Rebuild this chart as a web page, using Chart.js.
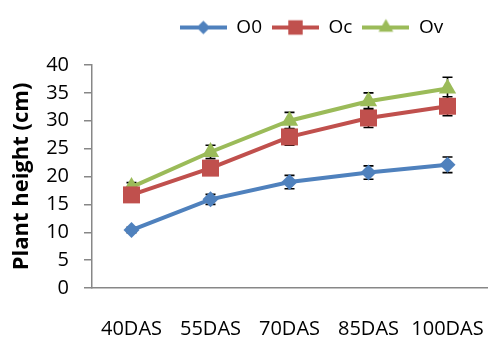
<!DOCTYPE html>
<html>
<head>
<meta charset="utf-8">
<script src="https://cdn.jsdelivr.net/npm/chart.js@4/dist/chart.umd.min.js"></script>
<style>
html,body{margin:0;padding:0;background:#fff;}
#wrap{width:488px;height:339px;position:relative;}
</style>
</head>
<body>
<div id="wrap"><canvas id="c" width="488" height="339"></canvas></div>
<script>
const categories = ['40DAS', '55DAS', '70DAS', '85DAS', '100DAS'];
const seriesNames = ['O0', 'Oc', 'Ov'];
const o0Values = [10.4, 15.9, 19.0, 20.7, 22.1];
const ocValues = [16.7, 21.5, 27.1, 30.5, 32.6];
const ovValues = [18.1, 24.4, 30.0, 33.5, 35.8];
const o0Errors = [0.5, 0.9, 1.2, 1.2, 1.4];
const ocErrors = [1.0, 1.2, 1.5, 1.7, 1.7];
const ovErrors = [0.8, 1.2, 1.5, 1.5, 2.0];
const yTicks = [0, 5, 10, 15, 20, 25, 30, 35, 40];

const FONT = "'Open Sans', 'DejaVu Sans', sans-serif";
const colors = ['#4F81BD', '#C0504D', '#9BBB59'];
const styles = ['rectRot', 'rect', 'triangle'];
const radii = [8, 12, 10];

function drawMarker(ctx, style, x, y, r, color) {
  ctx.fillStyle = color;
  ctx.beginPath();
  if (style === 'rectRot') {
    ctx.moveTo(x, y - r); ctx.lineTo(x + r, y); ctx.lineTo(x, y + r); ctx.lineTo(x - r, y);
  } else if (style === 'rect') {
    const s = r * Math.SQRT1_2;
    ctx.rect(x - s, y - s, 2 * s, 2 * s);
  } else {
    ctx.moveTo(x, y - r);
    ctx.lineTo(x + r * 0.866, y + r * 0.5);
    ctx.lineTo(x - r * 0.866, y + r * 0.5);
  }
  ctx.closePath();
  ctx.fill();
}

function legendIcon(i) {
  const cv = document.createElement('canvas');
  cv.width = 47; cv.height = 20;
  const ctx = cv.getContext('2d');
  ctx.strokeStyle = colors[i];
  ctx.lineWidth = 4;
  ctx.beginPath(); ctx.moveTo(0, 10); ctx.lineTo(47, 10); ctx.stroke();
  drawMarker(ctx, styles[i], 23.5, 10, radii[i] * 0.85, colors[i]);
  return cv;
}

const errorSets = [o0Errors, ocErrors, ovErrors];

const errorBarPlugin = {
  id: 'errorBars',
  beforeDatasetsDraw(chart) {
    const ctx = chart.ctx;
    const y = chart.scales.y;
    ctx.save();
    ctx.strokeStyle = '#000';
    ctx.lineWidth = 1.6;
    chart.data.datasets.forEach((ds, di) => {
      const meta = chart.getDatasetMeta(di);
      meta.data.forEach((pt, i) => {
        const v = ds.data[i], e = errorSets[di][i];
        const yt = y.getPixelForValue(v + e), yb = y.getPixelForValue(v - e);
        ctx.beginPath();
        ctx.moveTo(pt.x, yt); ctx.lineTo(pt.x, yb);
        ctx.moveTo(pt.x - 5, yt); ctx.lineTo(pt.x + 5, yt);
        ctx.moveTo(pt.x - 5, yb); ctx.lineTo(pt.x + 5, yb);
        ctx.stroke();
      });
    });
    ctx.restore();
  }
};

const legendShift = {
  id: 'legendShift',
  afterLayout(chart) {
    const lg = chart.legend;
    if (lg) { lg.left += 68; lg.right += 68; lg.top -= 18; lg.bottom -= 18; }
  }
};

const valueSets = [o0Values, ocValues, ovValues];

new Chart(document.getElementById('c'), {
  type: 'line',
  data: {
    labels: categories,
    datasets: seriesNames.map((n, i) => ({
      label: n,
      data: valueSets[i],
      borderColor: colors[i],
      backgroundColor: colors[i],
      borderWidth: 4,
      pointStyle: styles[i],
      pointRadius: radii[i],
      pointHoverRadius: radii[i],
      pointBorderWidth: 0,
      tension: 0,
      fill: false
    }))
  },
  plugins: [errorBarPlugin, legendShift],
  options: {
    responsive: false,
    animation: false,
    events: [],
    layout: { autoPadding: false, padding: { left: 0, right: 1, top: 26, bottom: 0 } },
    plugins: {
      tooltip: { enabled: false },
      legend: {
        position: 'top',
        labels: {
          usePointStyle: true,
          pointStyleWidth: 47,
          padding: 10,
          color: '#000',
          font: { family: FONT, size: 19 },
          generateLabels(chart) {
            return chart.data.datasets.map((ds, i) => ({
              text: ds.label,
              pointStyle: legendIcon(i),
              fillStyle: colors[i],
              strokeStyle: colors[i],
              lineWidth: 0,
              hidden: false,
              datasetIndex: i,
              fontColor: '#000'
            }));
          }
        }
      }
    },
    scales: {
      x: {
        type: 'category',
        offset: true,
        afterFit(scale) { scale.height = 51; scale.paddingRight = 0; scale.paddingLeft = 0; },
        grid: { display: false, drawTicks: false },
        border: { display: true, color: '#878787', width: 1.5 },
        ticks: { color: '#000', padding: 31, font: { family: FONT, size: 20, lineHeight: 1 }, maxRotation: 0, autoSkip: false }
      },
      y: {
        min: 0, max: 40,
        afterBuildTicks(scale) { scale.ticks = yTicks.map(v => ({ value: v })); },
        afterFit(scale) { scale.width = 92; scale.paddingTop = 0; scale.paddingBottom = 0; },
        grid: { drawOnChartArea: false, drawTicks: true, tickLength: 8, color: '#878787', lineWidth: 1.5 },
        border: { display: true, color: '#878787', width: 1.5 },
        ticks: { color: '#000', padding: 15, autoSkip: false, font: { family: FONT, size: 20 } },
        title: {
          display: true,
          text: 'Plant height (cm)',
          color: '#000',
          font: { family: FONT, size: 22, weight: 'bold', lineHeight: 1 },
          padding: { top: 11, bottom: 0 }
        }
      }
    }
  }
});
</script>
</body>
</html>
